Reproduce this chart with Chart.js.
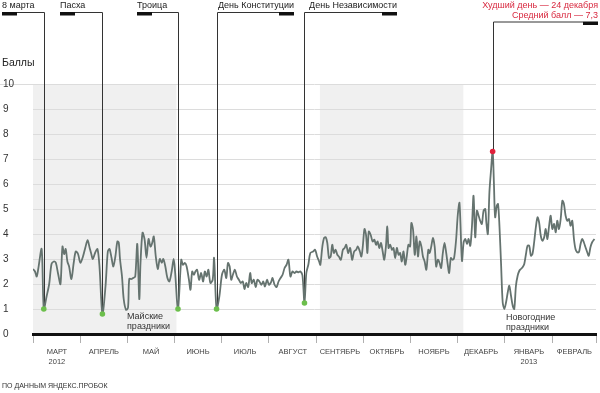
<!DOCTYPE html>
<html><head><meta charset="utf-8">
<script src="https://cdn.jsdelivr.net/npm/chart.js@4"></script>
<style>html,body{margin:0;padding:0;background:#fff}#wrap{width:600px;height:393px;position:relative}</style>
</head><body><div id="wrap"><canvas id="c" width="600" height="393"></canvas></div>
<script>
// Month boundaries (days since 1 March 2012) and labels
const monthStarts = [0,31,61,92,122,153,184,214,245,275,306,337,365];
const monthLabels = [['МАРТ','2012'],'АПРЕЛЬ','МАЙ','ИЮНЬ','ИЮЛЬ','АВГУСТ','СЕНТЯБРЬ','ОКТЯБРЬ','НОЯБРЬ','ДЕКАБРЬ',['ЯНВАРЬ','2013'],'ФЕВРАЛЬ'];
const yTicks = [0,1,2,3,4,5,6,7,8,9,10];

// Daily traffic score (day index, score)
const days = [
 0,1.3,2.4,3.4,5.6,7,8.8,10.5,12,13.5,
 14.8,16.3,17.8,19.1,20.2,21.2,22.3,23.4,24.9,26.4,
 27.7,29.2,30.7,32.4,33.9,35.4,36.7,37.8,38.8,40.3,
 41.8,43.1,45,47,48.5,49.6,50.9,52.1,53.4,54.7,
 55.6,56.4,57.7,58.8,60.3,61.6,62.4,63.9,65.2,66.3,
 67.6,68.9,69.7,71,72.3,73.6,74.9,76.2,77.3,78.3,
 79.6,80.9,82.2,83.5,84.5,85.8,87.1,88.4,89.9,91.2,
 92.1,94,
 96.1,97.2,98.5,99.6,101.1,102.1,103.2,104.3,105.3,106.4,
 107.7,109,110.3,111.4,112.6,113.7,115,116.5,117.4,119,
 120.8,122.5,124,125.3,126.4,127.5,128.5,129.6,130.9,132.2,
 133.5,134.7,136,137.1,138.2,139.5,140.8,141.8,143.1,144.4,
 145.5,146.8,148.1,149.3,150.4,151.7,153,154.3,155.3,156.6,
 157.9,159.2,160.5,161.8,163.1,164.4,165.6,166.9,168.2,169.5,
 170.8,172.1,173.4,174.7,176,177.2,178.5,179.8,
 181.6,182.9,184.2,185.5,186.3,187.6,188.7,189.8,190.8,191.9,
 193,194,195.1,196.2,197.3,198.3,199.6,200.9,202,203.1,
 204.3,205.6,206.9,208.2,209.5,210.6,211.9,212.9,213.8,214.9,
 215.9,216.8,217.7,218.9,220.2,221.3,222.4,223.4,224.5,225.6,
 226.7,227.7,228.8,229.7,230.5,231.6,232.7,233.7,234.8,235.9,
 237,238,239.1,240.2,241.3,242.3,243.4,244.5,245.3,246.4,
 247.5,248.6,249.6,250.7,251.8,252.8,253.9,255,256.3,257.1,
 258.2,259.3,260.4,261.4,262.5,263.6,264.6,265.7,266.8,267.9,
 268.9,269.8,270.9,272,273,274.3,275.4,276.5,
 278.1,279.2,280.3,281.4,282.4,283.5,284.6,285.6,286.7,287.8,
 288.9,289.9,291,292.1,293.2,293.9,294.9,295.9,297,298,
 298.8,299.6,300.7,301.5,302.4,303.5,304.5,305.6,306.7,307.8,
 308.8,309.9,311,312,313.1,314.2,315.3,316.3,317.4,318.5,
 319.6,320.6,321.7,322.8,323.8,324.9,326,327.1,328.1,329.2,
 330.3,331.4,332.4,333.5,334.6,335.6,336.7,337.8,338.9,339.9,
 341,342.1,343.2,344.2,345.3,346.4,347.5,348.5,349.6,350.7,
 351.7,352.8,353.9,355,356,357.1,358.2,359.3,360.3,361.4,
 362.5,364
];
const scores = [
 2.6,2.5,2.3,2.6,3.4,1.0,1.5,2.0,2.8,2.9,
 2.85,2.4,2.0,3.5,3.2,3.4,2.9,2.7,2.2,2.85,
 3.3,3.2,2.85,3.1,3.45,3.75,3.45,3.2,3.0,3.25,
 3.4,2.7,0.8,1.9,3.3,3.4,3.05,2.7,3.1,3.7,
 3.65,3.0,2.3,1.4,0.97,1.05,2.2,2.2,2.25,2.3,
 3.6,1.4,2.85,4.05,3.8,3.05,3.8,3.5,3.65,3.9,
 3.1,2.6,3.0,2.85,3.0,2.7,2.25,2.1,2.5,3.0,
 2.5,1.0,
 2.97,2.77,2.84,2.7,2.17,1.77,2.5,2.37,2.5,2.57,
 2.17,2.44,2.1,2.5,2.3,2.57,2.04,2.17,3.04,1.0,
 1.5,2.37,2.57,2.24,2.84,2.7,2.17,2.37,2.57,2.3,
 2.17,2.04,2.1,1.8,2.04,1.88,2.44,2.04,2.17,1.88,
 2.17,2.1,1.97,2.1,1.9,2.17,1.97,2.07,2.24,1.97,
 1.88,2.1,2.24,2.37,2.64,2.77,2.97,2.3,2.5,2.44,
 2.5,2.47,2.5,2.34,1.24,2.44,2.77,3.24,
 3.3,3.37,3.1,2.9,2.77,3.5,3.84,3.87,3.64,3.04,
 3.1,3.57,3.24,3.37,3.17,3.1,2.97,3.37,3.44,3.57,
 3.24,3.44,2.97,3.3,3.37,3.5,3.3,3.1,3.5,4.2,
 3.97,3.24,4.1,3.97,3.7,3.77,3.57,3.7,3.44,3.64,
 3.3,2.97,3.5,4.3,3.44,3.57,3.37,3.44,3.04,3.44,
 3.17,3.24,2.9,3.3,2.77,3.1,3.57,3.5,4.44,4.17,
 3.17,3.9,3.1,3.7,3.5,3.1,2.9,2.57,3.37,3.24,
 3.5,3.84,3.5,2.7,2.97,2.84,2.64,3.24,3.64,3.24,
 2.77,2.44,3.04,2.97,3.04,3.77,4.77,5.24,
 2.93,3.67,3.8,3.6,3.8,3.53,4.33,5.53,3.87,4.93,
 4.73,4.53,4.4,4.93,5.0,4.47,4.0,5.67,6.6,7.3,
 6.07,4.67,5.13,5.2,4.33,2.73,1.27,1.0,1.27,1.67,
 1.93,1.53,1.13,1.0,1.93,2.33,2.53,2.6,2.67,2.8,
 3.2,3.53,3.53,3.13,3.2,3.67,4.27,4.67,4.47,3.93,
 3.73,3.87,4.2,3.8,4.33,4.73,4.2,4.4,4.07,4.53,
 4.2,4.6,5.33,5.2,4.73,4.53,4.6,4.33,4.53,3.8,
 3.4,3.27,3.27,3.6,3.8,3.67,3.47,3.27,3.13,3.47,
 3.67,3.8
];

// Holidays
const holidayNames = ['8 марта','Пасха','Троица','День Конституции','День Независимости'];
const holidayDays = [7,45,94,119,176];
const holidayScores = [1.0,0.8,1.0,1.0,1.24];
// Worst day
const worstDay = [298];
const worstScore = [7.3];
const worstText = ['Худший день — 24 декабря','Средний балл — 7,3'];
// Shaded seasons (day ranges)
const shadeStarts = [0,186];
const shadeEnds = [93,279];

const FONT = "'Liberation Sans', Arial, sans-serif";
Chart.defaults.font.family = FONT;

// ticks: month boundaries + month midpoints (for labels)
const midpoints = monthLabels.map((_, i) => (monthStarts[i] + monthStarts[i + 1]) / 2);
const xTickValues = monthStarts.concat(midpoints).sort((a, b) => a - b);

const annLayout = [
  {x: 2, align: 'left'}, {x: 60, align: 'left'}, {x: 137, align: 'left'},
  {x: 294, align: 'right'}, {x: 397, align: 'right'}
];

const deco = {
  id: 'deco',
  beforeDraw(chart) {
    const {ctx, chartArea: a, scales: {x, y}} = chart;
    ctx.save();
    ctx.fillStyle = '#f0f0f0';
    const top = y.getPixelForValue(10), bot = y.getPixelForValue(0);
    shadeStarts.forEach((s, i) => {
      const x1 = x.getPixelForValue(s), x2 = x.getPixelForValue(shadeEnds[i]);
      ctx.fillRect(x1, top, x2 - x1, bot - top);
    });
    ctx.strokeStyle = '#dcdcdc';
    ctx.lineWidth = 1;
    const ty = Math.round(top) + 0.5;
    ctx.beginPath(); ctx.moveTo(0, ty); ctx.lineTo(a.left, ty); ctx.stroke();
    ctx.fillStyle = '#222';
    ctx.textBaseline = 'middle';
    ctx.textAlign = 'left';
    ctx.font = '10.5px ' + FONT;
    ctx.fillText('Баллы', 2, 63);
    ctx.font = '7px ' + FONT;
    ctx.fillStyle = '#333';
    ctx.fillText('ПО ДАННЫМ ЯНДЕКС.ПРОБОК', 2, 386);
    ctx.restore();
  },
  beforeDatasetsDraw(chart) {
    const {ctx, scales: {x, y}} = chart;
    ctx.save();
    ctx.font = '9px ' + FONT;
    ctx.textBaseline = 'middle';
    ctx.strokeStyle = '#333';
    ctx.lineWidth = 1;
    holidayDays.forEach((d, i) => {
      const L = annLayout[i];
      const px = Math.round(x.getPixelForValue(d)) + 0.5;
      const py = y.getPixelForValue(holidayScores[i]);
      ctx.fillStyle = '#222';
      ctx.textAlign = L.align;
      ctx.fillText(holidayNames[i], L.x, 6);
      const barX = L.align === 'left' ? L.x : L.x - 15;
      ctx.fillStyle = '#111';
      ctx.fillRect(barX, 12, 15, 3.5);
      const barEnd = L.align === 'left' ? L.x + 15 : L.x - 15;
      ctx.beginPath();
      ctx.moveTo(barEnd, 12.5); ctx.lineTo(px, 12.5); ctx.lineTo(px, py);
      ctx.stroke();
    });
    // worst day
    const wx = Math.round(x.getPixelForValue(worstDay[0])) + 0.5;
    const wy = y.getPixelForValue(worstScore[0]);
    ctx.fillStyle = '#d8283f';
    ctx.textAlign = 'right';
    ctx.fillText(worstText[0], 598, 5.5);
    ctx.fillText(worstText[1], 598, 15.5);
    ctx.fillStyle = '#111';
    ctx.fillRect(583, 21.5, 15, 3.5);
    ctx.beginPath();
    ctx.moveTo(583, 22); ctx.lineTo(wx, 22); ctx.lineTo(wx, wy);
    ctx.stroke();
    // notes
    ctx.fillStyle = '#333';
    ctx.textAlign = 'left';
    ctx.fillText('Майские', 127, 317);
    ctx.fillText('праздники', 127, 327);
    ctx.fillText('Новогодние', 506, 318);
    ctx.fillText('праздники', 506, 328);
    ctx.restore();
  }
};

new Chart(document.getElementById('c'), {
  type: 'line',
  data: {
    datasets: [
      {
        data: worstDay.map((d, i) => ({x: d, y: worstScore[i]})),
        showLine: false, pointRadius: 2.8, pointBackgroundColor: '#e0213b', pointBorderWidth: 0
      },
      {
        data: holidayDays.map((d, i) => ({x: d, y: holidayScores[i]})),
        showLine: false, pointRadius: 2.8, pointBackgroundColor: '#6cbf4c', pointBorderWidth: 0
      },
      {
        data: days.map((d, i) => ({x: d, y: scores[i]})),
        borderColor: '#65736f', borderWidth: 1.8, pointRadius: 0, tension: 0.3, fill: false
      }
    ]
  },
  options: {
    responsive: false,
    animation: false,
    devicePixelRatio: 1,
    layout: {padding: {left: 3, top: 84, right: 0, bottom: 0}},
    plugins: {legend: {display: false}, tooltip: {enabled: false}},
    scales: {
      x: {
        type: 'linear', min: 0, max: 365,
        afterBuildTicks: s => { s.ticks = xTickValues.map(v => ({value: v})); },
        afterFit: s => { s.height = 59; },
        border: {display: true, color: '#111', width: 3},
        grid: {
          drawOnChartArea: false, drawTicks: true, tickLength: 9, lineWidth: 1,
          color: c => (c.tick && monthStarts.includes(c.tick.value)) ? '#b0b0b0' : 'rgba(0,0,0,0)',
          tickColor: c => (c.tick && monthStarts.includes(c.tick.value)) ? '#b0b0b0' : 'rgba(0,0,0,0)'
        },
        ticks: {
          autoSkip: false, maxRotation: 0, minRotation: 0, padding: 3,
          color: '#444', font: {size: 7.5, lineHeight: 1.45},
          callback: v => { const i = midpoints.indexOf(v); return i >= 0 ? monthLabels[i] : ''; }
        }
      },
      y: {
        min: 0, max: 10,
        afterBuildTicks: s => { s.ticks = yTicks.map(v => ({value: v})); },
        afterFit: s => { s.width = 30; },
        border: {display: false},
        grid: {color: '#dcdcdc', lineWidth: 1, drawTicks: false},
        ticks: {crossAlign: 'far', padding: 0, color: '#333', font: {size: 10}}
      }
    }
  },
  plugins: [deco]
});
</script>
</body></html>
